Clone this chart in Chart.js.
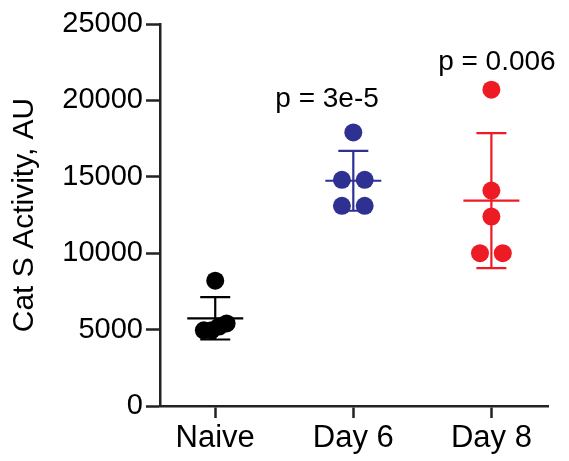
<!DOCTYPE html>
<html>
<head>
<meta charset="utf-8">
<script src="https://cdn.jsdelivr.net/npm/chart.js@4.4.0/dist/chart.umd.min.js"></script>
<style>
  html, body { margin: 0; padding: 0; background: #fff; }
  #wrap { width: 569px; height: 461px; }
</style>
</head>
<body>
<div id="wrap"><canvas id="c" width="569" height="461"></canvas></div>
<script>
// ---- data ----
const categories = ['Naive', 'Day 6', 'Day 8'];
const naiveValues = [8200, 5400, 5200, 4950, 4950];
const day6Values = [17900, 14800, 14800, 13100, 13100];
const day8Values = [20700, 14100, 12400, 10000, 10000];
const yTicks = [0, 5000, 10000, 15000, 20000, 25000];
const pLabels = ['', 'p = 3e-5', 'p = 0.006'];

const groups = [naiveValues, day6Values, day8Values];
const colors = ['#000000', '#2E3192', '#ED1C24'];
const FONT = "'Liberation Sans', Arial, sans-serif";

// mean and SD computed from the points
function mean(a) { return a.reduce((s, v) => s + v, 0) / a.length; }
function sd(a) { const m = mean(a); return Math.sqrt(a.reduce((s, v) => s + (v - m) * (v - m), 0) / (a.length - 1)); }

// simple symmetric spread of near-equal values (avoid overlap)
function spread(values, center) {
  const idx = values.map((v, i) => i).sort((a, b) => values[a] - values[b]);
  const out = new Array(values.length).fill(center);
  let cluster = [idx[0]];
  const flush = () => {
    const n = cluster.length;
    if (n > 1) {
      const total = 0.165;
      cluster.forEach((k, j) => { out[k] = center - total / 2 + j * total / (n - 1); });
    }
  };
  for (let i = 1; i < idx.length; i++) {
    if (values[idx[i]] - values[idx[i - 1]] < 1000) cluster.push(idx[i]);
    else { flush(); cluster = [idx[i]]; }
  }
  flush();
  return out;
}

const datasets = groups.map((vals, g) => {
  const xs = spread(vals, g + 1);
  return {
    label: categories[g],
    data: vals.map((v, i) => ({ x: xs[i], y: v })),
    backgroundColor: colors[g],
    borderColor: colors[g],
    borderWidth: 0,
    pointRadius: 9,
    pointHoverRadius: 9
  };
});

// annotation anchors (data units) for the p-value texts
const pAnchors = [null, { x: 1.81, y: 19570 }, { x: 3.04, y: 22000 }];

const errorBars = {
  id: 'errorBars',
  afterDatasetsDraw(chart) {
    const ctx = chart.ctx, xs = chart.scales.x, ys = chart.scales.y;
    ctx.save();
    groups.forEach((vals, g) => {
      const m = mean(vals), s = sd(vals);
      const cx = xs.getPixelForValue(g + 1);
      const ym = ys.getPixelForValue(m), yt = ys.getPixelForValue(m + s), yb = ys.getPixelForValue(m - s);
      ctx.strokeStyle = colors[g];
      ctx.lineWidth = 2.2;
      ctx.beginPath();
      ctx.moveTo(cx - 28, ym); ctx.lineTo(cx + 28, ym);
      ctx.moveTo(cx, yt); ctx.lineTo(cx, yb);
      ctx.moveTo(cx - 15, yt); ctx.lineTo(cx + 15, yt);
      ctx.moveTo(cx - 15, yb); ctx.lineTo(cx + 15, yb);
      ctx.stroke();
    });
    ctx.fillStyle = '#000';
    ctx.font = '28px ' + FONT;
    ctx.textAlign = 'center';
    ctx.textBaseline = 'alphabetic';
    pLabels.forEach((t, g) => {
      if (!t) return;
      ctx.fillText(t, xs.getPixelForValue(pAnchors[g].x), ys.getPixelForValue(pAnchors[g].y));
    });
    ctx.restore();
  }
};

new Chart(document.getElementById('c'), {
  type: 'scatter',
  data: { datasets },
  plugins: [errorBars],
  options: {
    responsive: false,
    animation: false,
    events: [],
    layout: { padding: { top: 24, right: 21, left: 0, bottom: 0 } },
    plugins: { legend: { display: false }, tooltip: { enabled: false } },
    scales: {
      x: {
        type: 'linear',
        min: 0.6,
        max: 3.41,
        afterBuildTicks(scale) { scale.ticks = [1, 2, 3].map(v => ({ value: v })); },
        afterFit(scale) { scale.height = 55; },
        ticks: {
          callback: (v) => categories[v - 1] || '',
          color: '#000',
          font: { family: FONT, size: 31 },
          padding: 2,
          maxRotation: 0,
          autoSkip: false
        },
        grid: { drawOnChartArea: false, drawTicks: true, tickLength: 12, tickWidth: 2.5, tickColor: '#222' },
        border: { display: true, color: '#222', width: 2.5 }
      },
      y: {
        min: 0,
        max: 25000,
        afterBuildTicks(scale) { scale.ticks = yTicks.map(v => ({ value: v })); },
        afterFit(scale) { scale.width = 160; },
        ticks: {
          callback: (v) => String(v),
          color: '#000',
          font: { family: FONT, size: 29 },
          padding: 3
        },
        grid: { drawOnChartArea: false, drawTicks: true, tickLength: 14, tickWidth: 2.5, tickColor: '#222' },
        border: { display: true, color: '#222', width: 2.5 },
        title: {
          display: true,
          text: 'Cat S Activity, AU',
          color: '#000',
          font: { family: FONT, size: 30, lineHeight: 1 },
          padding: { top: 10, bottom: 0 }
        }
      }
    }
  }
});
</script>
</body>
</html>
